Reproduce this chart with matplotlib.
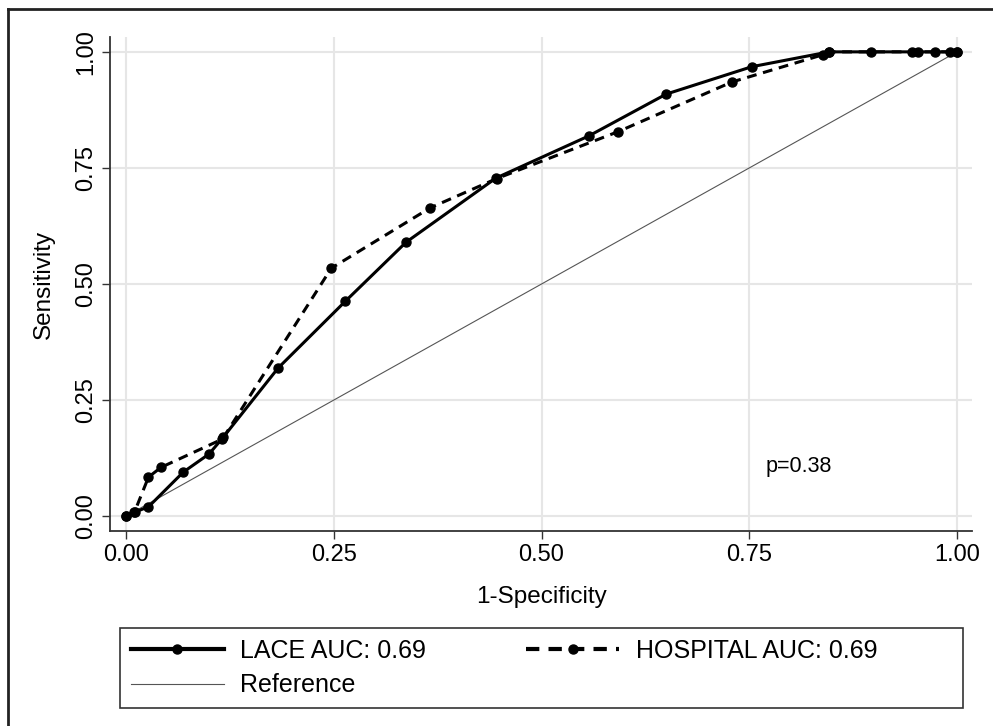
import matplotlib
matplotlib.use("Agg")
import matplotlib.pyplot as plt
from matplotlib.lines import Line2D
from matplotlib.patches import Rectangle

plt.rcParams['font.family'] = ['Liberation Sans', 'DejaVu Sans']

# ROC points
lace_fpr = [0.0, 0.011, 0.027, 0.069, 0.100, 0.117, 0.183, 0.264, 0.337, 0.445,
            0.557, 0.650, 0.753, 0.846, 0.896, 0.946, 0.974, 1.0]
lace_tpr = [0.0, 0.009, 0.020, 0.095, 0.134, 0.170, 0.319, 0.463, 0.590, 0.728,
            0.819, 0.909, 0.968, 1.0, 1.0, 1.0, 1.0, 1.0]

hosp_fpr = [0.0, 0.010, 0.027, 0.042, 0.116, 0.247, 0.366, 0.446, 0.592, 0.729,
            0.839, 0.846, 0.953, 0.992, 1.0]
hosp_tpr = [0.0, 0.008, 0.084, 0.105, 0.166, 0.534, 0.664, 0.727, 0.828, 0.935,
            0.994, 1.0, 1.0, 1.0, 1.0]

ref_x = [0.0, 1.0]
ref_y = [0.0, 1.0]

ticks = [0.0, 0.25, 0.5, 0.75, 1.0]
tick_labels = ["0.00", "0.25", "0.50", "0.75", "1.00"]

lace_label = "LACE AUC: 0.69"
hosp_label = "HOSPITAL AUC: 0.69"
p_text = "p=0.38"

W, H = 993, 726
fig = plt.figure(figsize=(W / 100, H / 100), dpi=100)
ax = fig.add_axes([110 / W, 1 - 531 / H, 862 / W, 494 / H])

ax.plot(ref_x, ref_y, color='#555555', lw=0.8, label='Reference', zorder=2)
ax.plot(lace_fpr, lace_tpr, color='black', lw=2.2, marker='o', ms=6.5,
        label=lace_label, zorder=4)
ax.plot(hosp_fpr, hosp_tpr, color='black', lw=2.2, ls=(0, (3.2, 2.2)),
        marker='o', ms=6.5, label=hosp_label, zorder=3)

ax.set_xlim(-0.0193, 1.018)
ax.set_ylim(-0.032, 1.032)
ax.set_xticks(ticks)
ax.set_xticklabels(tick_labels)
ax.set_yticks(ticks)
ax.set_yticklabels(tick_labels, rotation=90, va='center')
ax.tick_params(labelsize=17, length=6, width=1, color='#333333')
ax.grid(True, color='#e6e6e6', lw=1.5)
ax.set_axisbelow(True)
for s in ['top', 'right']:
    ax.spines[s].set_visible(False)
for s in ['left', 'bottom']:
    ax.spines[s].set_color('#333333')
    ax.spines[s].set_linewidth(1.3)

ax.set_xlabel("1-Specificity", fontsize=17.5, labelpad=14)
ax.set_ylabel("Sensitivity", fontsize=17.5, labelpad=14)
ax.text(0.77, 0.095, p_text, fontsize=15.5)

h, l = ax.get_legend_handles_labels()
order = [1, 0, 2]
leg = fig.legend([h[i] for i in order], [l[i] for i in order], ncol=2,
                 loc='upper left', bbox_to_anchor=(131 / W, 1 - 639 / H),
                 fontsize=18, frameon=False, handlelength=3.7,
                 handletextpad=0.68, columnspacing=4.0,
                 borderaxespad=0, labelspacing=0.42, borderpad=0)
for line in leg.get_lines()[:1] + leg.get_lines()[2:]:
    line.set_linewidth(3)

# legend box
fig.add_artist(Rectangle((120 / W, 1 - 708 / H), 843 / W, 80 / H,
                         transform=fig.transFigure, fill=False,
                         edgecolor='#333333', lw=1.2))

# outer frame (left and top edges visible)
fig.add_artist(Line2D([8 / W, 8 / W], [0, 1 - 9 / H], transform=fig.transFigure,
                      color='#222222', lw=2))
fig.add_artist(Line2D([8 / W, 1], [1 - 9 / H, 1 - 9 / H], transform=fig.transFigure,
                      color='#222222', lw=2))

fig.savefig("out.png", dpi=100)
